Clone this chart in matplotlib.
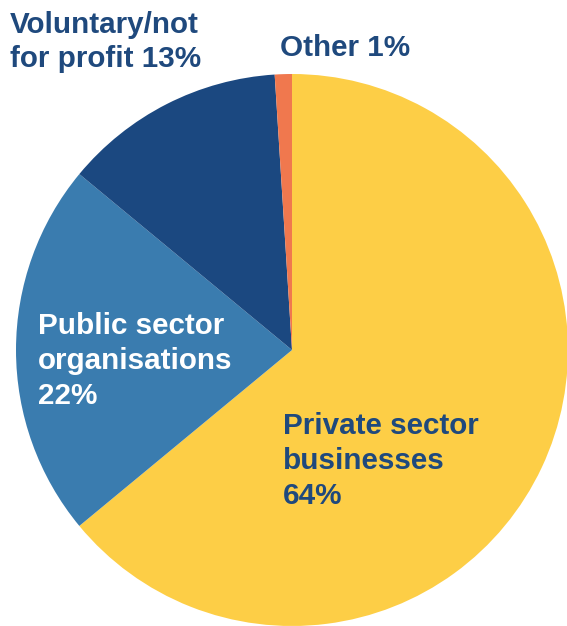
import matplotlib.pyplot as plt

labels = ['Private sector\nbusinesses\n64%', 'Public sector\norganisations\n22%',
          'Voluntary/not\nfor profit 13%', 'Other 1%']
shares = [64, 22, 13, 1]
colors = ['#FDCE46', '#3A7CAF', '#1B4880', '#F0784E']

W, H = 567, 626


def main():
    plt.rcParams['font.family'] = ['Liberation Sans', 'DejaVu Sans']
    fig = plt.figure(figsize=(W / 100, H / 100), dpi=100)
    ax = fig.add_axes([0, 0, 1, 1])

    ax.pie(shares, colors=colors, startangle=90, counterclock=False,
           center=(292, H - 350), radius=276,
           wedgeprops={'linewidth': 0})
    ax.set_xlim(0, W)
    ax.set_ylim(0, H)
    ax.set_aspect('auto')
    ax.axis('off')

    navy = '#1F497D'
    style = dict(fontsize=21.3, fontweight='bold', ha='left', va='center', linespacing=1.3)
    ax.text(38, H - 361, labels[1], color='white', **style)
    ax.text(283, H - 461, labels[0], color=navy, **style)
    ax.text(10, H - 42, labels[2], color=navy, **style)
    ax.text(280, H - 48, labels[3], color=navy, **style)

    fig.savefig('out.png', dpi=100, facecolor='white')


if __name__ == '__main__':
    main()
